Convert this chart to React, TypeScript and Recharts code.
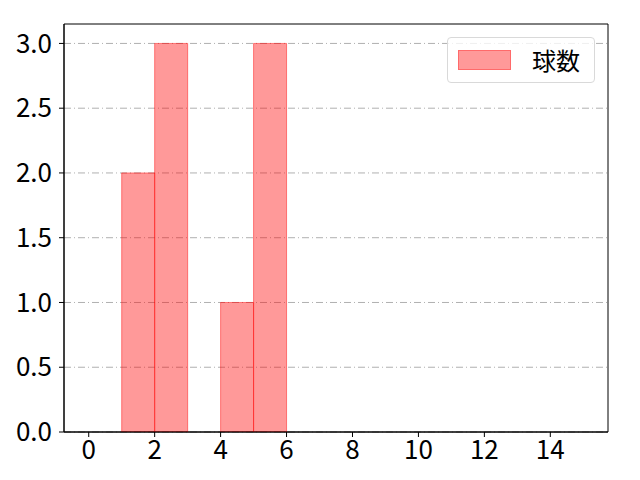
import React from 'react';
import { BarChart, Bar, XAxis, YAxis, CartesianGrid, Legend, ReferenceArea } from 'recharts';

// histogram bins (left edge) and counts
const binStarts = [1, 2, 4, 5];
const counts = [2, 3, 1, 3];
const xTicks = [0, 2, 4, 6, 8, 10, 12, 14];
const yTicks = [0, 0.5, 1.0, 1.5, 2.0, 2.5, 3.0];
const xDomain = [-0.75, 15.75];
const yDomain = [0, 3.15];
const seriesName = '球数';

const data = binStarts.map((s, i) => ({ x: s + 0.5, count: counts[i] }));

const FONT = '"Noto Sans CJK JP", "DejaVu Sans", sans-serif';

const LegendBox: React.FC<any> = () => (
  <div
    style={{
      position: 'absolute',
      left: 447,
      top: 37,
      width: 148,
      height: 46,
      border: '1px solid #d9d9d9',
      borderRadius: 4,
      background: 'rgba(255,255,255,0.8)',
      boxSizing: 'border-box',
      fontFamily: FONT,
    }}
  >
    <div
      style={{
        position: 'absolute',
        left: 10,
        top: 12,
        width: 53,
        height: 20,
        background: 'rgba(255,0,0,0.4)',
        border: '1px solid rgba(255,0,0,0.3)',
        boxSizing: 'border-box',
      }}
    />
    <div style={{ position: 'absolute', left: 84, top: 6, fontSize: 24, lineHeight: '32px', color: '#000' }}>
      {seriesName}
    </div>
  </div>
);

const App: React.FC = () => {
  return (
    <div style={{ position: 'absolute', left: 0, top: 0, width: 640, height: 480, background: '#fff' }}>
      <BarChart
        width={640}
        height={480}
        data={data}
        margin={{ top: 24, right: 32, bottom: 0, left: 0 }}
        barCategoryGap={0}
        barGap={0}
        style={{ fontFamily: FONT }}
      >
        <CartesianGrid
          horizontal
          vertical={false}
          stroke="#b0b0b0"
          strokeDasharray="7 3 1 3"
          horizontalValues={yTicks}
        />
        <XAxis
          dataKey="x"
          type="number"
          domain={xDomain}
          ticks={xTicks}
          interval={0}
          height={48}
          tickSize={5}
          tickMargin={4}
          stroke="#000"
          fontSize={26}
          tick={{ fill: '#000', fontSize: 26 }}
          allowDataOverflow
        />
        <YAxis
          domain={yDomain}
          ticks={yTicks}
          interval={0}
          width={64}
          tickSize={5}
          tickMargin={7}
          stroke="#000"
          fontSize={26}
          tick={{ fill: '#000', fontSize: 26 }}
          tickFormatter={(v: number) => v.toFixed(1)}
          allowDataOverflow
        />
        <Legend content={<LegendBox />} wrapperStyle={{ position: 'absolute', left: 0, top: 0, width: 0, height: 0 }} />
        <Bar
          dataKey="count"
          name={seriesName}
          fill="#ff0000"
          fillOpacity={0.4}
          stroke="#ff0000"
          strokeOpacity={0.45}
          strokeWidth={1}
          isAnimationActive={false}
        />
        <ReferenceArea
          x1={xDomain[0]}
          x2={xDomain[1]}
          y1={yDomain[0]}
          y2={yDomain[1]}
          fill="none"
          stroke="#000"
          strokeWidth={1}
          ifOverflow="visible"
        />
      </BarChart>
    </div>
  );
};

export default App;
